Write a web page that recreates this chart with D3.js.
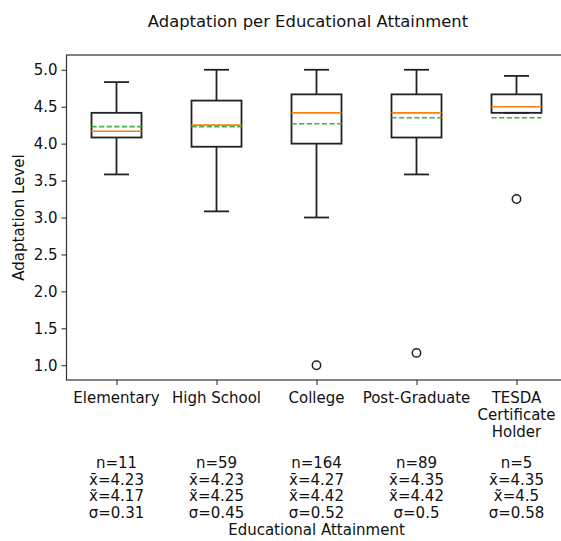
<!DOCTYPE html>
<html>
<head>
<meta charset="utf-8">
<script src="https://cdn.jsdelivr.net/npm/d3@7"></script>
<style>
  body { margin: 0; background: #fff; }
  text { font-family: "DejaVu Sans", sans-serif; fill: #111; }
</style>
</head>
<body>
<script>
// groups on the x axis
const categories = ["Elementary", "High School", "College", "Post-Graduate", "TESDA\nCertificate\nHolder"];

// box statistics
const whiskerLow  = [3.583, 3.083, 3.0, 3.583, 4.417];
const q1          = [4.083, 3.958, 4.0, 4.083, 4.417];
const medians     = [4.167, 4.25, 4.417, 4.417, 4.5];
const q3          = [4.417, 4.583, 4.667, 4.667, 4.667];
const whiskerHigh = [4.833, 5.0, 5.0, 5.0, 4.917];
const means       = [4.23, 4.23, 4.27, 4.35, 4.35];
const outliers    = [[], [], [1.0], [1.167], [3.25]];

// summary text under each group
const counts  = [11, 59, 164, 89, 5];
const meanTxt = ["4.23", "4.23", "4.27", "4.35", "4.35"];
const medTxt  = ["4.17", "4.25", "4.42", "4.42", "4.5"];
const sdTxt   = ["0.31", "0.45", "0.52", "0.5", "0.58"];

const yTicks = [1.0, 1.5, 2.0, 2.5, 3.0, 3.5, 4.0, 4.5, 5.0];

const width = 561, height = 541;
const margin = { top: 55, left: 66.5, bottom: 380, right: 566.5 };
const fs = 15;

const svg = d3.select("body").append("svg")
    .attr("width", width)
    .attr("height", height);

const x = d3.scaleLinear().domain([0.5, 5.5]).range([margin.left, margin.right]);
const y = d3.scaleLinear().domain([0.8, 5.2]).range([margin.bottom, margin.top]);

const boxW = x(1.25) - x(1);   // half box width
const capW = boxW / 2;

const data = categories.map((c, i) => ({
  i, pos: i + 1, lo: whiskerLow[i], q1: q1[i], med: medians[i], q3: q3[i],
  hi: whiskerHigh[i], mean: means[i], fl: outliers[i]
}));

const g = svg.append("g").selectAll("g").data(data).join("g");

// whiskers
g.append("line")
  .attr("x1", d => x(d.pos)).attr("x2", d => x(d.pos))
  .attr("y1", d => y(d.q3)).attr("y2", d => y(d.hi))
  .attr("stroke", "#222").attr("stroke-width", 1.8);
g.append("line")
  .attr("x1", d => x(d.pos)).attr("x2", d => x(d.pos))
  .attr("y1", d => y(d.q1)).attr("y2", d => y(d.lo))
  .attr("stroke", "#222").attr("stroke-width", 1.8);
// caps
g.append("line")
  .attr("x1", d => x(d.pos) - capW).attr("x2", d => x(d.pos) + capW)
  .attr("y1", d => y(d.hi)).attr("y2", d => y(d.hi))
  .attr("stroke", "#222").attr("stroke-width", 1.8);
g.append("line")
  .attr("x1", d => x(d.pos) - capW).attr("x2", d => x(d.pos) + capW)
  .attr("y1", d => y(d.lo)).attr("y2", d => y(d.lo))
  .attr("stroke", "#222").attr("stroke-width", 1.8);
// box
g.append("rect")
  .attr("x", d => x(d.pos) - boxW)
  .attr("y", d => y(d.q3))
  .attr("width", boxW * 2)
  .attr("height", d => y(d.q1) - y(d.q3))
  .attr("fill", "none")
  .attr("stroke", "#222").attr("stroke-width", 1.8);
// median
g.append("line")
  .attr("x1", d => x(d.pos) - boxW).attr("x2", d => x(d.pos) + boxW)
  .attr("y1", d => y(d.med)).attr("y2", d => y(d.med))
  .attr("stroke", "#ff7f0e").attr("stroke-width", 1.6);
// mean
g.append("line")
  .attr("x1", d => x(d.pos) - boxW).attr("x2", d => x(d.pos) + boxW)
  .attr("y1", d => y(d.mean)).attr("y2", d => y(d.mean))
  .attr("stroke", "#45b045").attr("stroke-width", 1.6)
  .attr("stroke-dasharray", "5.2,2.4");
// outliers
g.selectAll("circle").data(d => d.fl.map(v => ({ pos: d.pos, v }))).join("circle")
  .attr("cx", d => x(d.pos)).attr("cy", d => y(d.v))
  .attr("r", 4.2)
  .attr("fill", "none").attr("stroke", "#222").attr("stroke-width", 1.5);

// frame
svg.append("rect")
  .attr("x", margin.left).attr("y", margin.top)
  .attr("width", margin.right - margin.left)
  .attr("height", margin.bottom - margin.top)
  .attr("fill", "none").attr("stroke", "#333").attr("stroke-width", 1.2);

// y axis
const yAxis = svg.append("g")
  .attr("transform", `translate(${margin.left},0)`)
  .call(d3.axisLeft(y).tickValues(yTicks).tickFormat(d3.format(".1f")).tickSize(5).tickPadding(4));
yAxis.select(".domain").remove();
yAxis.selectAll("line").attr("stroke", "#333").attr("stroke-width", 1.1);
yAxis.selectAll("text").attr("font-size", fs).attr("font-family", "DejaVu Sans").attr("fill", "#111");

// x axis
const xAxis = svg.append("g")
  .attr("transform", `translate(0,${margin.bottom})`)
  .call(d3.axisBottom(x).tickValues([1, 2, 3, 4, 5]).tickFormat("").tickSize(5));
xAxis.select(".domain").remove();
xAxis.selectAll("line").attr("stroke", "#333").attr("stroke-width", 1.1);

// x tick labels (multi line)
const xl = svg.append("g").selectAll("text").data(categories).join("text")
  .attr("x", (d, i) => x(i + 1))
  .attr("y", 402.5)
  .attr("text-anchor", "middle")
  .attr("font-size", fs);
xl.selectAll("tspan").data(d => d.split("\n")).join("tspan")
  .attr("x", function () { return this.parentNode.getAttribute("x"); })
  .attr("dy", (d, i) => i === 0 ? 0 : 17)
  .text(d => d);

// stats under each group
const st = svg.append("g").selectAll("text").data(categories).join("text")
  .attr("x", (d, i) => x(i + 1))
  .attr("y", 468.3)
  .attr("text-anchor", "middle")
  .attr("font-size", fs);
st.selectAll("tspan")
  .data((d, i) => [
    `n=${counts[i]}`,
    `x\u0304=${meanTxt[i]}`,
    `x\u0303=${medTxt[i]}`,
    `\u03c3=${sdTxt[i]}`
  ])
  .join("tspan")
  .attr("x", function () { return this.parentNode.getAttribute("x"); })
  .attr("dy", (d, i) => i === 0 ? 0 : 16.4)
  .text(d => d);

// axis labels and title
svg.append("text")
  .attr("x", (margin.left + margin.right) / 2)
  .attr("y", 535)
  .attr("text-anchor", "middle")
  .attr("font-size", fs)
  .text("Educational Attainment");

svg.append("text")
  .attr("transform", `translate(24,${(margin.top + margin.bottom) / 2}) rotate(-90)`)
  .attr("text-anchor", "middle")
  .attr("font-size", fs)
  .text("Adaptation Level");

svg.append("text")
  .attr("x", 308)
  .attr("y", 27)
  .attr("text-anchor", "middle")
  .attr("font-size", 16.4)
  .text("Adaptation per Educational Attainment");
</script>
</body>
</html>
